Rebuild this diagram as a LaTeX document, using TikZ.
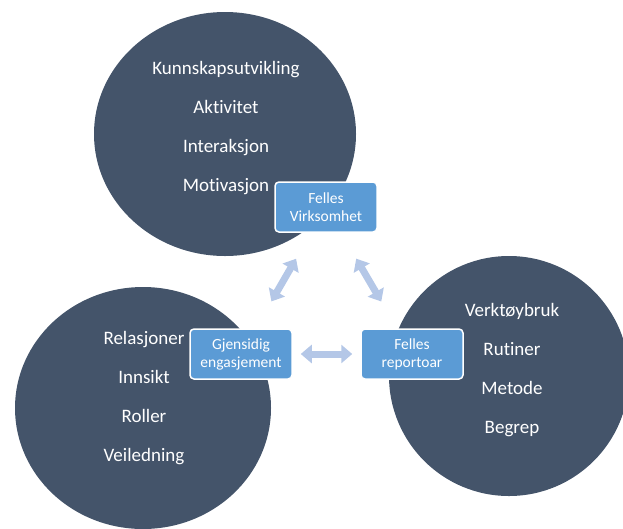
\documentclass[tikz,border=0pt]{standalone}
\usepackage{fontspec}
\setmainfont{Carlito}[Ligatures={NoCommon,NoContextual}]
\usetikzlibrary{shapes.geometric,arrows.meta}
\definecolor{circlegray}{HTML}{44546A}
\definecolor{boxblue}{HTML}{5B9BD5}
\definecolor{arrowblue}{HTML}{B4C7E7}
\begin{document}
\begin{tikzpicture}[x=1pt,y=-1pt,
	blob/.style={ellipse,fill=circlegray,inner sep=0pt},
	words/.style={text=white,align=center,font=\fontsize{19}{39}\selectfont},
	tag/.style={rectangle,rounded corners=4pt,fill=boxblue,draw=white,line width=1.5pt,text=white,align=center,minimum width=102pt,minimum height=50pt,inner sep=0pt,font=\fontsize{15.5}{18}\selectfont},
	link/.style={arrowblue,line width=7pt,{Triangle[width=18pt,length=11pt]}-{Triangle[width=18pt,length=11pt]}}]
	\useasboundingbox (0,0) rectangle (623,528);
	\node[blob,minimum width=262pt,minimum height=244pt] (top) at (225,134) {};
	\node[blob,minimum width=256pt,minimum height=242pt] (left) at (143,408) {};
	\node[blob,minimum width=240pt,minimum height=240pt] (right) at (509,376) {};
	\node[words] (toptxt) at (226,128) {Kunnskapsutvikling\\Aktivitet\\Interaksjon\\Motivasjon};
	\node[words] (lefttxt) at (144,398) {Relasjoner\\Innsikt\\Roller\\Veiledning};
	\node[words] (righttxt) at (512,370) {Verktøybruk\\Rutiner\\Metode\\Begrep};
	\node[tag] (virk) at (326,207) {Felles\\Virksomhet};
	\node[tag] (gjen) at (241,354) {Gjensidig\\engasjement};
	\node[tag] (repo) at (412,354) {Felles\\reportoar};
	\draw[link,shorten <=30pt,shorten >=31pt] (virk) -- (gjen);
	\draw[link,shorten <=30pt,shorten >=31pt] (virk) -- (repo);
	\draw[link,shorten <=8pt,shorten >=8pt] (gjen) -- (repo);
\end{tikzpicture}
\end{document}
